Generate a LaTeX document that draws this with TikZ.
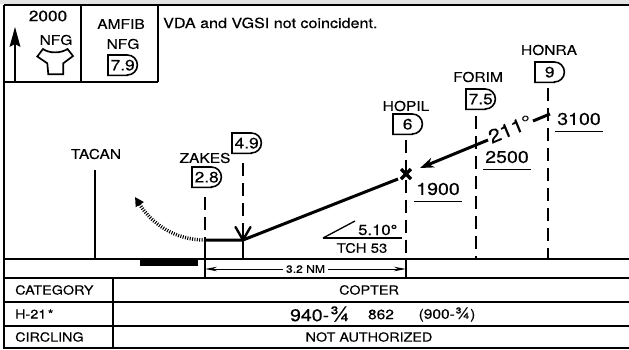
\documentclass[tikz,border=0pt]{standalone}
\usepackage{fontspec}
\setmainfont{TeX Gyre Heros}[FakeStretch=1.15,FakeBold=0.3]
\usetikzlibrary{arrows.meta,calc}
\newcommand\myfs[1]{\fontsize{#1}{#1}\selectfont}
\tikzset{
  frame/.style={line width=1.8pt},
  thin/.style={line width=1.3pt},
  dashln/.style={line width=1.3pt, dash pattern=on 13pt off 7pt},
  profile/.style={line width=3pt},
  lbl/.style={inner sep=0pt, font=\myfs{13.5}},
  alt/.style={inner sep=0pt, font=\myfs{17}},
  tbl/.style={inner sep=0pt, font=\myfs{12.5}},
  fixnum/.style={inner sep=0pt, minimum width=29pt, minimum height=20pt, font=\myfs{15}},
  fixline/.style={line width=1.6pt},
}
\newcommand\fixbox[3]{%
  \node[fixnum, anchor=north west] (#1) at (#2) {#3};
  \draw[fixline] (#1.south west) -- (#1.north west) -- ($(#1.north east)+(-10,0)$)
     arc[start angle=-90, end angle=90, radius=10] -- ($(#1.south east)+(-10,0)$) -- cycle;
}
\begin{document}
\begin{tikzpicture}[x=1pt,y=-1pt]
\useasboundingbox (0,0) rectangle (629,349);
\fill[gray!22] (0,0) rectangle (629,4);
% frame
\draw[frame] (4,5) -- (629,5);
\draw[frame] (4,5) -- (4,349);
\draw[frame] (4,82) -- (158,82);
\draw[frame] (81,5) -- (81,82);
\draw[frame] (158,5) -- (158,82);
\draw[frame] (4,259) -- (629,259);
\draw[frame] (4,278) -- (629,278);
\draw[frame] (4,302) -- (629,302);
\draw[frame] (4,326) -- (629,326);
\draw[frame] (4,348) -- (629,348);
\draw[frame] (113,278) -- (113,348);
% top-left box
\coordinate (arB) at (15,81); \coordinate (arT) at (15,27);
\draw[line width=2.2pt] (arB) -- ($(arT)+(0,12)$);
\fill (arT) -- ($(arT)+(5.5,20)$) -- ($(arT)+(0,17)$) -- ($(arT)+(-5.5,20)$) -- cycle;
\node[lbl, font=\myfs{15}] (alt2000) at (48,16) {2000};
\node[lbl] (nfg1) at (56,40) {NFG};
\draw[line width=1.7pt, line join=miter] (43,49) .. controls (49,53.5) and (61,53.5) .. (67.5,49)
  -- (73,56) -- (63.3,63.3) -- (63.3,74.3) -- (48.3,74.3) -- (47.3,63.3) -- (37.3,56.5) -- cycle;
% second box
\node[lbl] (amfib) at (121,24) {AMFIB};
\node[lbl] (nfg2) at (123,44) {NFG};
\fixbox{b79}{108,55}{7.9}
% note
\node[lbl, anchor=base west, font=\myfs{14}] (note) at (163,28) {VDA and VGSI not coincident.};
% fix labels
\node[lbl] (tacan) at (96,154) {TACAN};
\node[lbl] (zakes) at (205,158) {ZAKES};
\fixbox{b28}{192,167}{2.8}
\fixbox{b49}{232,133}{4.9}
\node[lbl] (hopil) at (406,106) {HOPIL};
\fixbox{b6}{393,114}{6}
\node[lbl] (forim) at (478,77) {FORIM};
\fixbox{b75}{466,89}{7.5}
\node[lbl] (honra) at (549,50) {HONRA};
\fixbox{b9}{535,62}{9}
% vertical lines
\coordinate (tacT) at (95,170); \coordinate (tacG) at (95,259);
\draw[thin] (tacT) -- (tacG);
\coordinate (zT) at (205,197); \coordinate (p1) at (205,240); \coordinate (zG) at (205,259);
\draw[dashln] (zT) -- (p1); \draw[thin] (p1) -- (zG);
\coordinate (fT) at (243,163); \coordinate (p2) at (243,240); \coordinate (fG) at (243,259);
\coordinate (fV) at (243,226);
\draw[dashln] (fT) -- (fV);
\draw[thin] (fV) -- (p2) -- (fG);
\draw[line width=2.4pt, line cap=round, line join=round] ($(p2)+(-7.5,-13)$) -- (p2) -- ($(p2)+(7.5,-13)$);
\coordinate (hT) at (406,140); \coordinate (hG) at (406,259);
\draw[dashln] (hT) -- (hG);
\coordinate (foT) at (476,116); \coordinate (foG) at (476,259);
\draw[dashln] (foT) -- (foG);
\coordinate (hoT) at (548,88); \coordinate (hoG) at (548,259);
\draw[dashln] (hoT) -- (hoG);
% profile
\coordinate (p3) at (398,179);
\draw[profile] (p1) -- (p2) -- (p3);
\coordinate (xh) at (406,174);
\draw[line width=3.2pt] ($(xh)+(-5,-5)$) -- ($(xh)+(5,5)$);
\draw[line width=3.2pt] ($(xh)+(-5,5)$) -- ($(xh)+(5,-5)$);
\coordinate (h1) at (550,114); \coordinate (h2) at (533,121);
\draw[profile] (h1) -- (h2);
\coordinate (a1) at (488,140); \coordinate (a2) at (420,168);
\draw[profile, -{Stealth[length=14pt,width=10pt]}] (a1) -- (a2);
\node[inner sep=0pt, font=\myfs{19}, rotate=22.5] (crs) at (510,129) {211°};
% dotted missed approach
\coordinate (m1) at (135,197);
\draw[line width=3.5pt, dash pattern=on 1pt off 1.4pt, -{Triangle[length=9pt,width=9pt]}]
  (p1) .. controls (175,240) and (152,224) .. (m1);
% altitudes
\node[alt] (a1900) at (438,189) {1900};
\draw[thin] ($(a1900.south west)+(-2,6)$) -- ($(a1900.south east)+(2,6)$);
\node[alt] (a2500) at (507,157) {2500};
\draw[thin] ($(a2500.south west)+(-2,6)$) -- ($(a2500.south east)+(2,6)$);
\node[alt] (a3100) at (579,119) {3100};
\draw[thin] ($(a3100.south west)+(-2,6)$) -- ($(a3100.south east)+(2,6)$);
% glide slope
\coordinate (gs0) at (323,238); \coordinate (gs1) at (402,238); \coordinate (gs2) at (355,221);
\draw[thin] (gs0) -- (gs1);
\draw[thin] (gs0) -- (gs2);
\node[inner sep=0pt, font=\myfs{14.5}, anchor=base west] (gsa) at (358,235) {5.10°};
\node[inner sep=0pt, font=\myfs{13}] (tch) at (362,248) {TCH 53};
% ground bar and dimension
\fill (140,259) rectangle (198,265.5);
\coordinate (dl) at (205,269); \coordinate (dr) at (406,269);
\draw[thin] (205,259) -- (205,278);
\draw[thin] (406,259) -- (406,278);
\draw[line width=1pt, {Stealth[length=12pt,width=4.5pt]}-{Stealth[length=12pt,width=4.5pt]}]
  (dl) -- node[fill=white, inner xsep=3pt, inner ysep=1pt, font=\myfs{10.5}] (dim) {3.2 NM} (dr);
% table
\node[tbl, anchor=west] (cat) at (15,290) {CATEGORY};
\node[tbl, anchor=west] (h21) at (15,314) {H-21\kern1.5pt*};
\node[tbl, anchor=west] (circ) at (15,337) {CIRCLING};
\node[tbl] (copter) at (369,290) {COPTER};
\node[inner sep=0pt, font=\myfs{17}, anchor=east] (min1) at (350,314) {940-\kern0.5pt{\myfs{21}¾}};
\node[inner sep=0pt, font=\myfs{13.5}] (min2) at (381,314.5) {862};
\node[inner sep=0pt, font=\myfs{13.5}] (min3) at (447,314.5) {(900-{\myfs{16}¾})};
\node[tbl] (na) at (369,337) {NOT AUTHORIZED};
\end{tikzpicture}
\end{document}
